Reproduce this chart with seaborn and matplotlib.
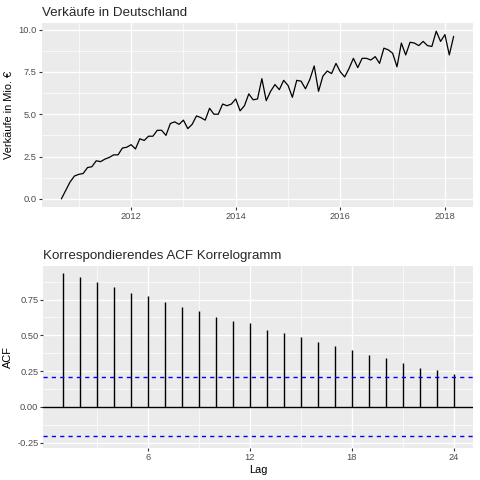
import numpy as np
import pandas as pd
import matplotlib
matplotlib.use('Agg')
import matplotlib.pyplot as plt
import seaborn as sns

# monthly sales, Sep 2010 .. Mar 2018 (Mio. EUR)
sales = [0.0, 0.5, 1.0, 1.35, 1.45, 1.5, 1.85, 1.9, 2.25, 2.2, 2.35, 2.45,
         2.6, 2.6, 3.0, 3.05, 3.2, 2.95, 3.55, 3.45, 3.7, 3.7, 4.05, 4.05,
         3.75, 4.45, 4.55, 4.4, 4.65, 4.15, 4.4, 4.9, 4.8, 4.65, 5.35, 5.0,
         5.0, 5.6, 5.5, 5.6, 5.9, 5.2, 5.5, 6.2, 5.85, 5.9, 7.1, 5.8,
         6.35, 6.75, 6.45, 7.0, 6.7, 6.0, 7.0, 6.95, 6.5, 7.05, 7.85, 6.35,
         7.25, 7.55, 7.4, 8.0, 7.5, 7.2, 7.7, 8.3, 7.75, 8.3, 8.3, 8.2,
         8.4, 8.0, 8.9, 8.8, 8.6, 7.8, 9.2, 8.5, 9.25, 9.2, 9.05, 9.3,
         9.05, 9.0, 9.9, 9.3, 9.7, 8.5, 9.6]
start_year = 2010 + 8 / 12  # Sep 2010

lags = list(range(1, 25))
acf_vals = [0.933, 0.905, 0.871, 0.836, 0.794, 0.773, 0.731, 0.697, 0.669, 0.627,
            0.599, 0.585, 0.536, 0.515, 0.488, 0.453, 0.425, 0.397, 0.362, 0.341,
            0.306, 0.272, 0.258, 0.230]
ci = 0.206

df = pd.DataFrame({'t': start_year + np.arange(len(sales)) / 12, 'sales': sales})
acf_df = pd.DataFrame({'lag': lags, 'acf': acf_vals})

sns.set_theme(style='darkgrid', rc={
    'axes.facecolor': '#EBEBEB', 'grid.color': 'white', 'grid.linewidth': 1.0,
    'xtick.bottom': True, 'ytick.left': True,
    'xtick.color': '#333333', 'ytick.color': '#333333',
    'xtick.labelcolor': '#4D4D4D', 'ytick.labelcolor': '#4D4D4D',
    'xtick.major.size': 2.0, 'ytick.major.size': 2.0,
    'xtick.major.width': 0.8, 'ytick.major.width': 0.8,
    'xtick.major.pad': 1.5, 'ytick.major.pad': 1.5,
    'xtick.labelsize': 6.7, 'ytick.labelsize': 6.7,
    'axes.labelsize': 7.9, 'axes.labelcolor': 'black',
})
plt.rcParams['font.family'] = ['Liberation Sans', 'DejaVu Sans']

fig = plt.figure(figsize=(4.8, 4.8), dpi=100)
ax1 = fig.add_axes([0.0868, 0.568, 0.899, 0.3846])
ax2 = fig.add_axes([0.0903, 0.066, 0.896, 0.380])

def gg_grid(ax, minor_x, minor_y):
    ax.set_xticks(minor_x, minor=True)
    ax.set_yticks(minor_y, minor=True)
    ax.grid(which='major', color='white', linewidth=1.0)
    ax.grid(which='minor', color='white', linewidth=0.5)
    ax.tick_params(which='minor', length=0)
    for s in ax.spines.values():
        s.set_visible(False)
    ax.set_axisbelow(True)

# top: time series
sns.lineplot(data=df, x='t', y='sales', ax=ax1, color='black', linewidth=0.9)
ax1.set_xlim(2010.29, 2018.54)
ax1.set_ylim(-0.5, 10.4)
ax1.set_xticks([2012, 2014, 2016, 2018])
ax1.set_xticklabels(['2012', '2014', '2016', '2018'])
ax1.set_yticks([0, 2.5, 5, 7.5, 10])
ax1.set_yticklabels(['0.0', '2.5', '5.0', '7.5', '10.0'])
gg_grid(ax1, [2011, 2013, 2015, 2017], [1.25, 3.75, 6.25, 8.75])
ax1.set_xlabel('')
ax1.set_ylabel('Verkäufe in Mio. €', labelpad=3)
ax1.set_title('Verkäufe in Deutschland', loc='left', fontsize=9.6, pad=5)

# bottom: ACF
ax2.vlines(acf_df['lag'], 0, acf_df['acf'], color='black', linewidth=1.0)
ax2.axhline(0, color='black', linewidth=1.0)
ax2.axhline(ci, color='blue', linestyle=(0, (3, 3)), linewidth=1.0)
ax2.axhline(-ci, color='blue', linestyle=(0, (3, 3)), linewidth=1.0)
ax2.set_xlim(-0.15, 25.15)
ax2.set_ylim(-0.29, 0.985)
ax2.set_xticks([6, 12, 18, 24])
ax2.set_yticks([-0.25, 0, 0.25, 0.5, 0.75])
ax2.set_yticklabels(['-0.25', '0.00', '0.25', '0.50', '0.75'])
gg_grid(ax2, [3, 9, 15, 21], [-0.125, 0.125, 0.375, 0.625, 0.875])
ax2.set_xlabel('Lag', labelpad=2)
ax2.set_ylabel('ACF', labelpad=3)
ax2.set_title('Korrespondierendes ACF Korrelogramm', loc='left', fontsize=9.6, pad=5)

fig.savefig('out.png', dpi=100)
